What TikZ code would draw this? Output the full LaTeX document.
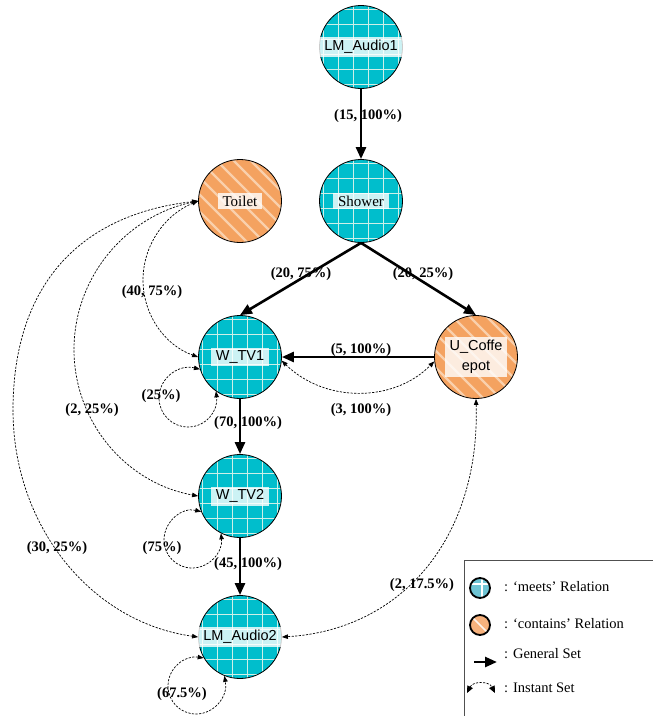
\documentclass[tikz,border=0pt]{standalone}
\usepackage{fontspec}
\setmainfont{Liberation Serif}
\newfontfamily\arialfont{Liberation Sans}
\usetikzlibrary{arrows.meta}

\definecolor{meetsfill}{RGB}{0,190,204}
\definecolor{meetsgrid}{RGB}{205,240,232}
\definecolor{containsfill}{RGB}{244,162,96}
\definecolor{containsstripe}{RGB}{249,208,172}
\definecolor{legendmeets}{RGB}{110,196,212}
\definecolor{legendcontains}{RGB}{247,178,125}
\definecolor{framegray}{RGB}{80,80,80}

\begin{document}
\begin{tikzpicture}[x=1pt,y=-1pt,
  every node/.style={inner sep=0pt},
  room/.style={circle, draw=black, line width=0.8pt, minimum size=83pt, inner sep=0pt},
  meets/.style={room, fill=meetsfill, path picture={
      \foreach \d in {-37.5,-22.5,-7.5,7.5,22.5,37.5} {
        \draw[meetsgrid, line width=1.8pt]
          ([xshift=\d*1pt]path picture bounding box.north) --
          ([xshift=\d*1pt]path picture bounding box.south);
        \draw[meetsgrid, line width=1.8pt]
          ([yshift=\d*1pt]path picture bounding box.west) --
          ([yshift=\d*1pt]path picture bounding box.east);
      }}},
  contains/.style={room, fill=containsfill, path picture={
      \foreach \d in {-102,-85,...,102} {
        \draw[containsstripe, line width=2.2pt]
          ([xshift=\d*1pt-60pt, yshift=60pt]path picture bounding box.center) --
          ([xshift=\d*1pt+60pt, yshift=-60pt]path picture bounding box.center);
      }}},
  textbox/.style={fill=white, fill opacity=0.8, text opacity=1,
    inner xsep=5pt, inner ysep=3pt},
  sanslabel/.style={textbox, font=\arialfont\fontsize{14.5}{20}\selectfont},
  seriflabel/.style={textbox, font=\fontsize{15}{17}\selectfont},
  elabel/.style={font=\bfseries\fontsize{14.5}{17}\selectfont},
  general/.style={line width=2.6pt, -{Triangle[length=12pt,width=10pt]}},
  instant/.style={line width=0.7pt, dash pattern=on 2.2pt off 1.4pt,
    {Triangle[length=6pt,width=4.5pt]}-{Triangle[length=6pt,width=4.5pt]}},
  legendtext/.style={anchor=west, font=\fontsize{14.5}{17}\selectfont}
]
\useasboundingbox (0,0) rectangle (653,716);

% rooms
\node[meets]    (lma1)   at (361,47)  {};
\node[meets]    (shower) at (361,201) {};
\node[contains] (toilet) at (240,201) {};
\node[meets]    (wtv1)   at (240,357) {};
\node[contains] (ucp)    at (476,357) {};
\node[meets]    (wtv2)   at (240,496) {};
\node[meets]    (lma2)   at (240,637) {};

% general sets
\draw[general] (lma1) -- (shower);
\draw[general] (shower.south) -- (wtv1.north);
\draw[general] (shower.south) -- (ucp.north);
\draw[general] (ucp) -- (wtv1);
\draw[general] (wtv1) -- (wtv2);
\draw[general] (wtv2) -- (lma2);

% instant sets
\draw[instant] (toilet.west) .. controls (164.6,214.8) and (143,245.5) .. (143,280)
  .. controls (143,314.5) and (164.6,345.2) .. (wtv1.west);
\draw[instant] (toilet.west) .. controls (126,216) and (74,277) .. (74,349.5)
  .. controls (74,422) and (126,483) .. (wtv2.west);
\draw[instant] (toilet.west) .. controls (75,215) and (13,290) .. (13,410)
  .. controls (13,525) and (90,622) .. (lma2.west);
\draw[instant] (wtv1.-5) .. controls (324.7,402.8) and (393.3,402.8) .. (ucp.186);
\draw[instant] (ucp.south) .. controls (480,540) and (400,630) .. (lma2.east);
\draw[instant] (wtv1.197) .. controls (178.3,363.9) and (159,378.3) .. (159,398)
  .. controls (159,414) and (172,427) .. (188,427)
  .. controls (206.1,427) and (218.3,410.8) .. (wtv1.235);
\draw[instant] (wtv2.202) .. controls (182.1,506.9) and (164,521.4) .. (164,540)
  .. controls (164,555.5) and (176.5,568) .. (192,568)
  .. controls (209.4,568) and (223,552.1) .. (wtv2.243);
\draw[instant] (lma2.210) .. controls (184.5,655.1) and (168,668.1) .. (168,686)
  .. controls (168,701.5) and (180.5,714) .. (196,714)
  .. controls (214.7,714) and (228.3,695.9) .. (lma2.248);

% room names
\node[sanslabel]  (lma1t)   at (lma1)   {LM\_Audio1};
\node[seriflabel] (showert) at (shower) {Shower};
\node[seriflabel] (toilett) at (toilet) {Toilet};
\node[sanslabel]  (wtv1t)   at (wtv1)   {W\_TV1};
\node[sanslabel, align=center] (ucpt) at (ucp) {U\_Coffe\\epot};
\node[sanslabel]  (wtv2t)   at (wtv2)   {W\_TV2};
\node[sanslabel]  (lma2t)   at (lma2)   {LM\_Audio2};

% connector labels
\node[elabel] (e1)  at (368,116) {(15, 100\%)};
\node[elabel] (e2)  at (301,274) {(20, 75\%)};
\node[elabel] (e3)  at (423,274) {(20, 25\%)};
\node[elabel] (e4)  at (361,350) {(5, 100\%)};
\node[elabel] (e5)  at (361,410) {(3, 100\%)};
\node[elabel] (e6)  at (152,292) {(40, 75\%)};
\node[elabel] (e7)  at (161,396) {(25\%)};
\node[elabel] (e8)  at (248,423) {(70, 100\%)};
\node[elabel] (e9)  at (92,410)  {(2, 25\%)};
\node[elabel] (e10) at (57,548)  {(30, 25\%)};
\node[elabel] (e11) at (162,548) {(75\%)};
\node[elabel] (e12) at (248,564) {(45, 100\%)};
\node[elabel] (e13) at (422,585) {(2, 17.5\%)};
\node[elabel] (e14) at (182,694) {(67.5\%)};

% legend
\draw[framegray, line width=0.9pt] (464,560) rectangle (680,740);
\node[circle, draw=black, line width=1.8pt, fill=legendmeets, minimum size=20pt,
  path picture={
    \draw[white, line width=1.2pt] ([xshift=2pt]path picture bounding box.north) -- ([xshift=2pt]path picture bounding box.south);
    \draw[white, line width=1.2pt] ([yshift=4pt]path picture bounding box.west) -- ([yshift=4pt]path picture bounding box.east);
  }] (legm) at (480,588) {};
\node[circle, draw=black, line width=1.8pt, fill=legendcontains, minimum size=20pt,
  path picture={
    \draw[white!85!legendcontains, line width=1.6pt]
      ([xshift=-10pt,yshift=10pt]path picture bounding box.center) --
      ([xshift=10pt,yshift=-10pt]path picture bounding box.center);
  }] (legc) at (480,625) {};
\coordinate (gs0) at (474,662);
\coordinate (gs1) at (497,662);
\draw[general] (gs0) -- (gs1);
\coordinate (is0) at (467,693);
\coordinate (is1) at (495,693);
\draw[line width=0.7pt, dash pattern=on 2.2pt off 1.4pt,
  {Triangle[length=7pt,width=6pt]}-{Triangle[length=7pt,width=6pt]}]
  (is0) .. controls (473,681) and (489,681) .. (is1);
\node[legendtext] (legmt) at (504,587) {: ‘meets’ Relation};
\node[legendtext] (legct) at (504,624) {: ‘contains’ Relation};
\node[legendtext] (leggt) at (504,654) {: General Set};
\node[legendtext] (legit) at (504,688) {: Instant Set};
\end{tikzpicture}
\end{document}
